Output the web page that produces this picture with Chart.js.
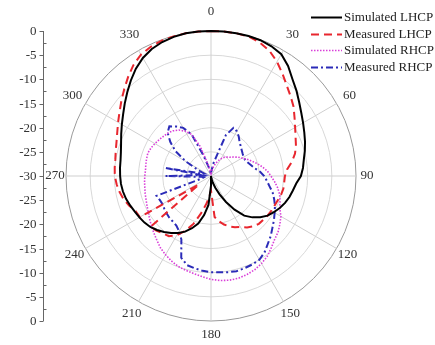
<!DOCTYPE html>
<html>
<head>
<meta charset="utf-8">
<script src="https://cdn.jsdelivr.net/npm/chart.js@4.4.0/dist/chart.umd.min.js"></script>
<style>
html, body { margin: 0; padding: 0; background: #fff; overflow: hidden; }
#wrap { width: 435px; height: 345px; position: relative; }
</style>
</head>
<body>
<div id="wrap"><canvas id="polar" width="435" height="345"></canvas></div>
<script>
// angle (deg, clockwise from top) of every sample
var angles = [0,5,10,15,20,25,30,35,40,45,50,55,60,65,70,75,80,85,90,95,100,105,110,115,
  120,125,130,135,140,145,150,155,160,165,170,175,180,185,190,195,200,205,210,215,220,225,230,235,
  240,245,250,255,260,265,270,275,280,285,290,295,300,305,310,315,320,325,330,335,340,345,350,355];

// gain in dB
var simLHCP = [0,0,0,0,-0.1,-0.4,-0.9,-2.2,-3.8,-5,-6.2,-7.2,-8,-8.7,-9.3,-9.9,-10.5,-10.9,-11.4,-12.3,
  -12.8,-13.2,-13.7,-14.3,-15,-15.7,-16.7,-17.9,-19.3,-21.5,-23.8,-25.8,-27.4,-28.6,-29.4,-30,-28,-24,-21.8,-19.8,
  -18.5,-17.3,-16.4,-15.6,-14.9,-14.2,-13.6,-13.2,-12.9,-12.6,-12.2,-11.8,-11.5,-11.3,-11.2,-11.1,-11,-10.7,-10.2,-9.5,
  -8.7,-7.8,-6.7,-5.5,-4.2,-2.9,-1.8,-1,-0.5,-0.2,0,0];
var measLHCP = [0,0,0,-0.1,-0.6,-1.4,-2.7,-4.2,-5.6,-6.7,-7.7,-8.9,-9.9,-10.7,-11.3,-12,-13,-14.2,-14.7,-14.8,
  -14.8,-15,-15.3,-15.5,-15.6,-15.7,-15.9,-16,-16.4,-17,-17.8,-18.3,-18.9,-19.6,-20.5,-21.5,-27,-25.5,-24,-22,
  -19.5,-17.5,-15.8,-14.8,-14.5,-14,-13.7,-27,-13,-12.8,-12,-11.3,-10.8,-10.4,-10.1,-10,-9.9,-9.6,-9.2,-8.6,
  -7.8,-6.9,-5.8,-4.6,-3.3,-2,-1,-0.5,-0.2,-0.1,0,0];
var simRHCP = [-29.5,-29.2,-28.8,-28,-27.3,-26.5,-25.9,-25.3,-24.9,-24.5,-23.9,-23.2,-22.6,-21.8,-21,-20.1,-19.2,-18.3,-17.6,-16.8,
  -16,-15.3,-14.8,-14.3,-13.3,-12.6,-11.9,-11.4,-10.6,-9.7,-9.1,-8.6,-8.3,-8.1,-8.1,-8.3,-8.6,-9.1,-9.5,-9.8,
  -10.1,-10.6,-11.2,-11.8,-12.6,-13.3,-13.9,-14.5,-15,-15.4,-15.7,-15.9,-16.1,-16.2,-16.3,-16.4,-16.3,-16.2,-16.1,-16.3,
  -16.6,-16.9,-17.2,-17.4,-17.8,-18.4,-19.3,-20.5,-23.5,-27.3,-28.6,-29.3];
var measRHCP = [-29.5,-29,-27.5,-26,-21,-19,-19.3,-20,-20.8,-21.3,-21.7,-22,-22.2,-22.2,-21.9,-21.4,-20.8,-19.8,-19,-18.4,
  -17.7,-16.8,-16.1,-15.4,-14.8,-14.1,-13.4,-12.5,-11.7,-10.7,-10,-9.8,-9.7,-9.6,-9.8,-10,-10.1,-10.3,-10.6,-10.9,
  -12,-15.5,-16.8,-17.5,-17.7,-17.8,-18,-18.2,-18.4,-18.3,-18,-28,-28.5,-28,-20.6,-28,-20.5,-28,-28.5,-27,
  -24,-21,-19,-17.3,-16.6,-17.5,-18.5,-20.5,-25.5,-28,-29,-29.5];

var ringTicks = [0,-5,-10,-15,-20,-25,-30];
var minorTicks = [-2.5,-7.5,-12.5,-17.5,-22.5,-27.5];
var angleTicks = [0,30,60,90,120,150,180,210,240,270,300,330];
var names = ['Simulated LHCP','Measured LHCP','Simulated RHCP','Measured RHCP'];

var serif = "'Liberation Serif', 'Times New Roman', serif";

// vertical dB axis on the left, mirrored about the centre
var leftAxis = {
  id: 'leftAxis',
  afterDraw: function (chart) {
    var r = chart.scales.r, ctx = chart.ctx, x = 43.5;
    var yc = r.yCenter;
    var full = r.getDistanceFromCenterForValue(0);
    ctx.save();
    ctx.strokeStyle = '#666';
    ctx.lineWidth = 1;
    ctx.beginPath();
    ctx.moveTo(x, yc - full);
    ctx.lineTo(x, yc + full);
    ctx.stroke();
    ctx.font = '13px ' + serif;
    ctx.fillStyle = '#333';
    ctx.textAlign = 'right';
    ctx.textBaseline = 'middle';
    ringTicks.forEach(function (v) {
      var d = r.getDistanceFromCenterForValue(v);
      var sides = v === -30 ? [1] : [-1, 1];
      sides.forEach(function (s) {
        var y = Math.round(yc + s * d) + 0.5;
        ctx.beginPath();
        ctx.moveTo(x - 4, y);
        ctx.lineTo(x, y);
        ctx.stroke();
        ctx.fillText(String(v), x - 7, y);
      });
    });
    minorTicks.forEach(function (v) {
      var d = r.getDistanceFromCenterForValue(v);
      [-1, 1].forEach(function (s) {
        var y = Math.round(yc + s * d) + 0.5;
        ctx.beginPath();
        ctx.moveTo(x, y);
        ctx.lineTo(x + 3, y);
        ctx.stroke();
      });
    });
    ctx.restore();
  }
};

// angle labels round the outside
var angleLabels = {
  id: 'angleLabels',
  afterDraw: function (chart) {
    var r = chart.scales.r, ctx = chart.ctx;
    ctx.save();
    ctx.font = '13px ' + serif;
    ctx.fillStyle = '#333';
    ctx.textAlign = 'center';
    ctx.textBaseline = 'middle';
    angleTicks.forEach(function (a) {
      var i = angles.indexOf(a);
      var c = Math.cos(a * Math.PI / 180);
      var p = r.getPointPosition(i, r.drawingArea + 11 + 8 * Math.max(0, c) + 3 * Math.max(0, -c));
      ctx.fillText(String(a), p.x, p.y);
    });
    ctx.restore();
  }
};

// legend box at top right
var sideLegend = {
  id: 'sideLegend',
  afterDraw: function (chart) {
    var ctx = chart.ctx;
    ctx.save();
    ctx.font = '13px ' + serif;
    ctx.fillStyle = '#222';
    ctx.textAlign = 'left';
    ctx.textBaseline = 'middle';
    chart.data.datasets.forEach(function (ds, i) {
      var y = Math.round(17 + i * 16.7) + 0.5;
      ctx.strokeStyle = ds.borderColor;
      ctx.lineWidth = ds.borderWidth;
      ctx.setLineDash(ds.borderDash || []);
      ctx.beginPath();
      ctx.moveTo(311, y);
      ctx.lineTo(342, y);
      ctx.stroke();
      ctx.fillText(ds.label, 344, y);
    });
    ctx.restore();
  }
};

new Chart(document.getElementById('polar'), {
  type: 'radar',
  data: {
    labels: angles,
    datasets: [
      { label: names[0], data: simLHCP, borderColor: '#000000', borderWidth: 2, fill: false },
      { label: names[1], data: measLHCP, borderColor: '#e8262e', borderWidth: 2, borderDash: [8, 5], fill: false },
      { label: names[2], data: simRHCP, borderColor: '#d93fd9', borderWidth: 1.6, borderDash: [1.5, 1.5], fill: false },
      { label: names[3], data: measRHCP, borderColor: '#2b2bb8', borderWidth: 2, borderDash: [7, 3, 2, 3], fill: false }
    ]
  },
  options: {
    responsive: false,
    animation: false,
    devicePixelRatio: 1,
    layout: { padding: { left: 66, top: 31, right: 79, bottom: 24 } },
    elements: {
      point: { radius: 0, hoverRadius: 0 },
      line: { tension: 0 }
    },
    plugins: { legend: { display: false }, tooltip: { enabled: false } },
    scales: {
      r: {
        min: -30,
        max: 0,
        startAngle: 0,
        ticks: { display: false, stepSize: 5 },
        pointLabels: { display: false },
        grid: {
          circular: true,
          color: function (c) { return c.tick && c.tick.value === 0 ? '#9a9a9a' : '#d8d8d8'; },
          lineWidth: 1
        },
        angleLines: {
          color: function (c) { return c.index % 6 === 0 ? '#cfcfcf' : 'rgba(0,0,0,0)'; },
          lineWidth: 1
        }
      }
    }
  },
  plugins: [leftAxis, angleLabels, sideLegend]
});
</script>
</body>
</html>
